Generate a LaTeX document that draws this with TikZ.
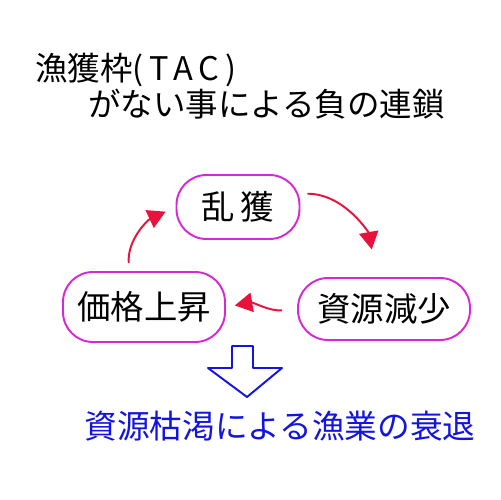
\documentclass[tikz,border=0pt]{standalone}
\usepackage{fontspec}
\newfontfamily\jp{Noto Sans CJK JP}
\usetikzlibrary{shapes.geometric,arrows.meta}
\definecolor{lobe}{RGB}{214,40,214}
\definecolor{redarr}{RGB}{232,18,60}
\definecolor{bluecol}{RGB}{20,20,225}
\tikzset{
  title/.style={font=\jp\fontsize{18.5}{20}\selectfont, anchor=west, inner sep=0},
  cyclebox/.style={rectangle, rounded corners=30*0.02cm, draw=lobe, line width=1.1pt, inner sep=0,
     font=\jp\fontsize{19}{21}\selectfont},
  cyclearrow/.style={draw=redarr, line width=1.1pt, -{Triangle[length=10pt,width=11pt]}},
  bluetext/.style={font=\jp\fontsize{18.6}{20}\selectfont, text=bluecol, inner sep=0},
}
\begin{document}
\begin{tikzpicture}[x=0.02cm, y=-0.02cm]
\useasboundingbox[fill=white] (0,0) rectangle (500,500);
\node[title] (t1) at (35,70) {漁獲枠{\addfontfeature{LetterSpace=18}(TAC)}};
\node[title] (t2) at (88,104) {がない事による負の連鎖};
\node[cyclebox, minimum width=123*0.02cm, minimum height=64*0.02cm] (ranka) at (238,207) {乱\,獲};
\node[cyclebox, minimum width=172*0.02cm, minimum height=62*0.02cm] (gensho) at (384,309) {資源減少};
\node[cyclebox, minimum width=162*0.02cm, minimum height=70*0.02cm] (kakaku) at (144,307) {価格上昇};
\draw[cyclearrow, shorten <=7*0.02cm, shorten >=28*0.02cm] (ranka.12) to[out=0, in=100] (gensho.103);
\draw[cyclearrow, shorten <=15*0.02cm, shorten >=9*0.02cm] (gensho.west) to[out=185, in=10] (kakaku.east);
\draw[cyclearrow, shorten <=8*0.02cm, shorten >=11*0.02cm] (kakaku.112) to[out=95, in=205] (ranka.west);
\draw[bluecol, line width=1.1pt, line join=round]
  (232,346) -- (253,346) -- (253,368) -- (282,368) -- (247,397) -- (208,368) -- (232,368) -- cycle;
\node[bluetext] (result) at (280,426) {資源枯渇による漁業の衰退};
\end{tikzpicture}
\end{document}
